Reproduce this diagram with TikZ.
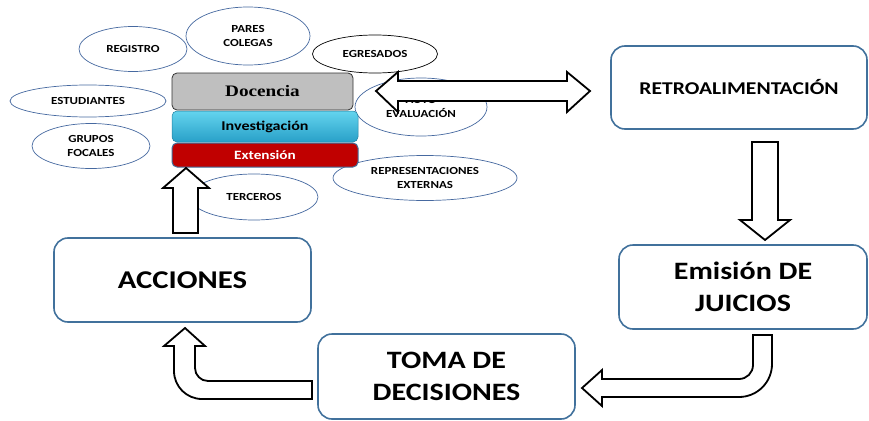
\documentclass[tikz,border=0pt]{standalone}
\usepackage{fontspec}
\setmainfont{Carlito}[FakeStretch=1.2]
\newfontfamily\docserif{Liberation Serif}[FakeStretch=1.2]
\usetikzlibrary{shapes.geometric}
\definecolor{boxblue}{RGB}{65,113,156}
\definecolor{ellblue}{RGB}{70,105,160}
\definecolor{docgray}{RGB}{191,191,191}
\definecolor{extred}{RGB}{192,0,0}
\definecolor{cyanA}{RGB}{100,212,238}
\definecolor{cyanB}{RGB}{40,160,200}
\begin{document}
\begin{tikzpicture}[x=1pt,y=-1pt,
  mainbox/.style={draw=boxblue, line width=1.6pt, rounded corners=14pt, fill=white, align=center, inner sep=0pt},
  ell/.style={ellipse, draw=ellblue, line width=0.7pt, fill=white, inner sep=0pt, align=center, font=\bfseries\fontsize{10.8}{14.5}\selectfont},
  blockarrow/.style={draw=black, line width=1.8pt, fill=white, line join=miter},
  layer/.style={rounded corners=5pt, align=center, inner sep=0pt}
]
\useasboundingbox (0,0) rectangle (869,420);
% ellipses
\node[ell, minimum width=108, minimum height=45] (reg) at (133,49) {REGISTRO};
\node[ell, minimum width=124, minimum height=58] (par) at (248,36) {PARES\\COLEGAS};
\node[ell, minimum width=156, minimum height=32] (est) at (88,101) {ESTUDIANTES};
\node[ell, minimum width=118, minimum height=45] (gru) at (91,146) {GRUPOS\\FOCALES};
\node[ell, minimum width=128, minimum height=46] (ter) at (254,197) {TERCEROS};
\node[ell, draw=black, minimum width=125, minimum height=38] (egr) at (375,54) {EGRESADOS};
\node[ell, minimum width=132, minimum height=58] (aut) at (421,107) {AUTO\\EVALUACIÓN};
\node[ell, minimum width=184, minimum height=45] (rep) at (425,178) {REPRESENTACIONES\\EXTERNAS};
% stacked layers
\node[layer, draw=black!80, line width=0.8pt, fill=docgray, minimum width=181, minimum height=37,
  font=\docserif\bfseries\fontsize{16}{18}\selectfont] (doc) at (262.5,91.5) {Docencia};
\node[layer, draw=cyanB!80!black, line width=0.5pt, top color=cyanA, bottom color=cyanB, minimum width=186, minimum height=31,
  font=\bfseries\fontsize{13.4}{15}\selectfont] (inv) at (265,126.5) {Investigación};
\node[layer, draw=boxblue, line width=1pt, fill=extred, text=white, minimum width=186, minimum height=24,
  font=\bfseries\fontsize{12.7}{14}\selectfont] (ext) at (265,155) {Extensión};
% main boxes
\node[mainbox, minimum width=256, minimum height=83, font=\bfseries\fontsize{18}{22}\selectfont] (ret) at (739,87.5) {RETROALIMENTACIÓN};
\node[mainbox, minimum width=248, minimum height=84, font=\bfseries\fontsize{25}{32}\selectfont] (emi) at (743,287) {Emisión DE\\JUICIOS};
\node[mainbox, minimum width=257, minimum height=85, font=\bfseries\fontsize{25}{32}\selectfont] (tom) at (446.5,376.5) {TOMA DE\\DECISIONES};
\node[mainbox, minimum width=257, minimum height=84, font=\bfseries\fontsize{25.6}{32}\selectfont] (acc) at (182.5,280) {ACCIONES};
% block arrows
\draw[blockarrow] (376,91) -- (398,72) -- (398,81) -- (567,81) -- (567,72) -- (590,91)
  -- (567,112) -- (567,101) -- (398,101) -- (398,112) -- cycle;
\draw[blockarrow] (752,142) -- (778,142) -- (778,220) -- (790,220) -- (765,240)
  -- (740,220) -- (752,220) -- cycle;
\draw[blockarrow] (173,233) -- (173,188) -- (163,188) -- (186,168) -- (209,188)
  -- (198,188) -- (198,233) -- cycle;
\draw[blockarrow] (753,335) -- (772,335) -- (772,364) arc[start angle=0, end angle=90, radius=33]
  -- (602,397) -- (602,406) -- (582,388) -- (602,370) -- (602,379) -- (739,379)
  arc[start angle=90, end angle=0, radius=14] -- cycle;
\draw[blockarrow] (312,381) -- (312,399) -- (202,399) arc[start angle=90, end angle=180, radius=28]
  -- (174,346) -- (164,346) -- (185,328) -- (205,346) -- (195,346) -- (195,368)
  arc[start angle=180, end angle=90, radius=13] -- cycle;
\end{tikzpicture}
\end{document}
